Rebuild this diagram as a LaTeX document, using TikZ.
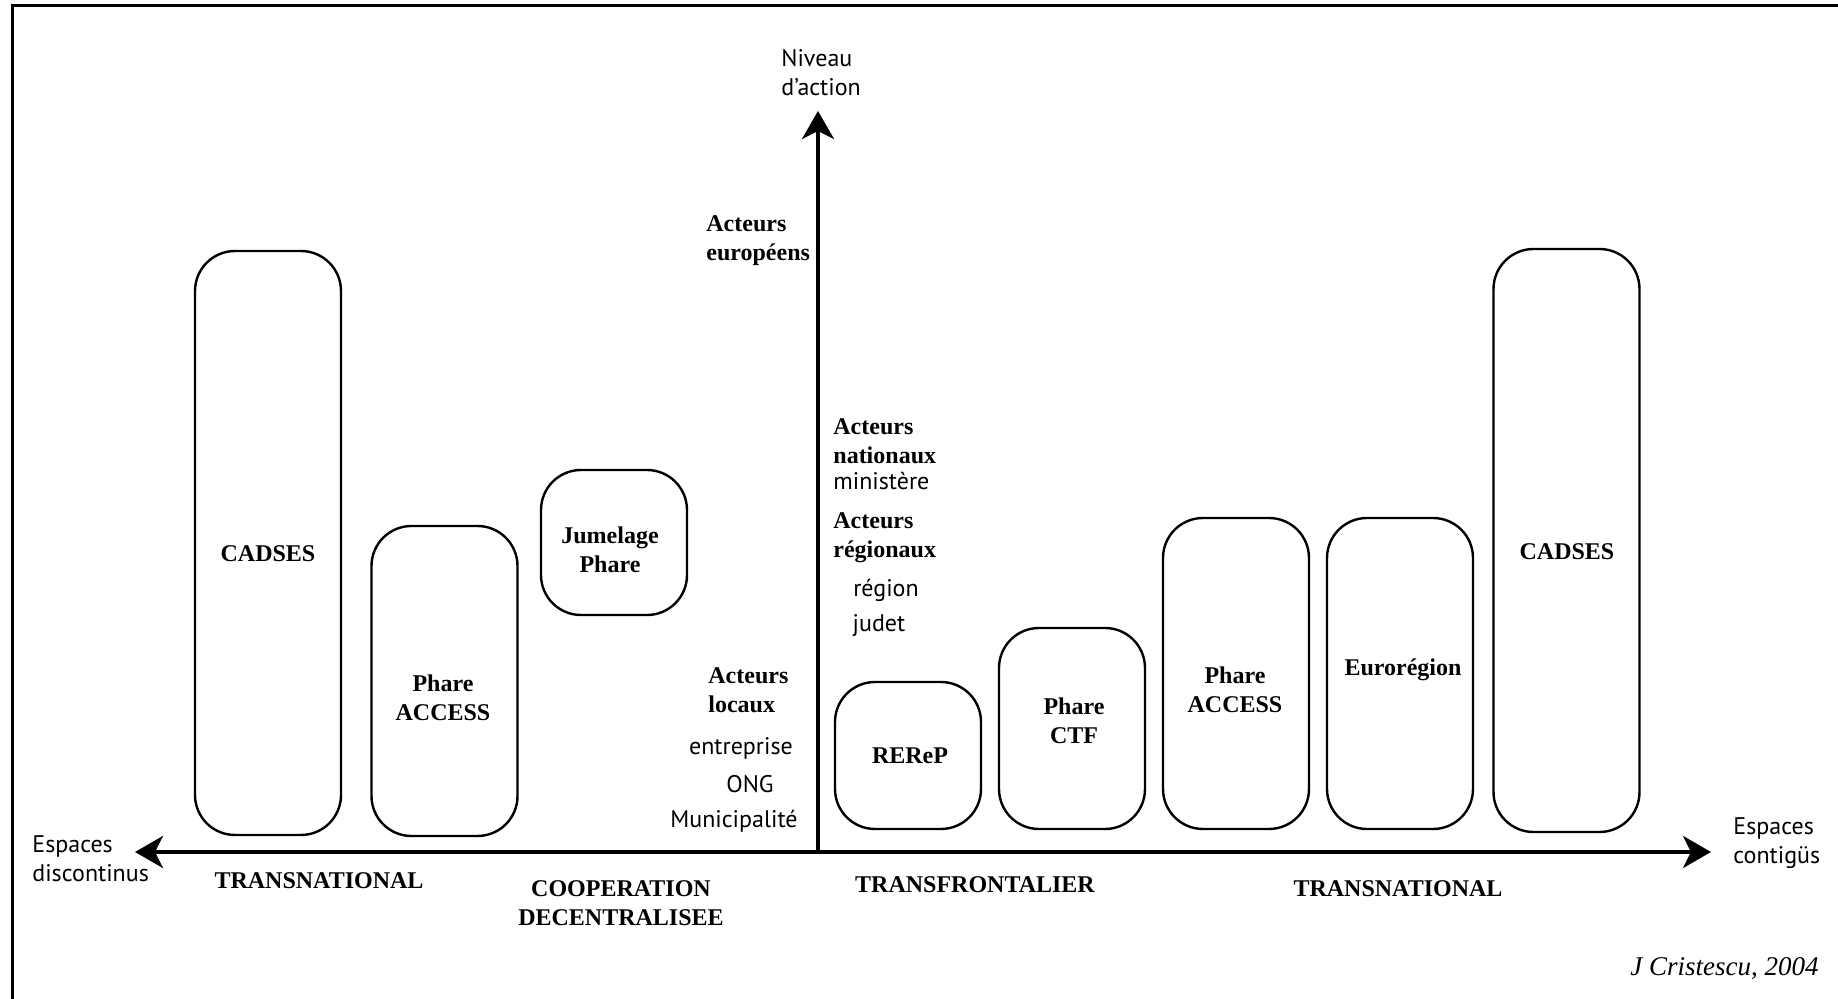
\documentclass[tikz,border=0pt]{standalone}
\usepackage{fontspec}
\setmainfont{Liberation Serif}
\setsansfont{PT Sans}
\usetikzlibrary{arrows.meta}
\tikzset{
  >={Stealth[length=14pt,width=16pt,inset=4pt]},
  prog/.style={draw, line width=1.2pt, rounded corners=20pt, minimum width=73pt, inner sep=0pt},
  bold/.style={font=\bfseries\fontsize{12}{14.5}\selectfont, align=center, inner sep=0pt},
  plain/.style={font=\sffamily\fontsize{12}{14.5}\selectfont, align=center, inner sep=0pt},
  axis/.style={line width=2pt}
}
\begin{document}
\begin{tikzpicture}[x=0.5pt, y=-0.5pt]
\useasboundingbox (0,0) rectangle (1838,999);
% frame
\draw[line width=1.5pt] (12,999) -- (12,6) -- (1838,6);
% axes
\coordinate (origin) at (818,852);
\coordinate (ytop) at (818,111);
\coordinate (xleft) at (135,852);
\coordinate (xright) at (1711,852);
\draw[axis, ->] (origin) -- (ytop);
\draw[axis, <->] (xleft) -- (xright);
\node[plain, align=left, anchor=west] (niveau) at (781,73) {Niveau\\d\symbol{39}action};
\node[plain, align=left, anchor=west] (discontinus) at (32,859) {Espaces\\discontinus};
\node[plain, align=left, anchor=west] (contigus) at (1733,843) {Espaces\\contig\"us};
% programmes
\foreach \nm/\cx/\cy/\ht in {cadsesL/268/543/584, accessL/444.5/681/310, jumelage/614/542.5/145,
  rerep/908/755.5/147, ctf/1072/728.5/201, accessR/1236/673.5/311, euroreg/1400/673.5/311,
  cadsesR/1566.5/540.5/583}
{
  \node[prog, minimum height=\ht*0.5pt] (\nm) at (\cx,\cy) {};
}
\node[bold] (cadsesLtxt) at (268,554) {CADSES};
\node[bold] (accessLtxt) at (443,698) {Phare\\ACCESS};
\node[bold] (jumelagetxt) at (610,550) {Jumelage\\Phare};
\node[bold] (rereptxt) at (910,756) {REReP};
\node[bold] (ctftxt) at (1074,721) {Phare\\CTF};
\node[bold] (accessRtxt) at (1235,690) {Phare\\ACCESS};
\node[bold] (euroregtxt) at (1403,670) {Eurorégion};
\node[bold] (cadsesRtxt) at (1567,552) {CADSES};
% acteurs
\node[bold, align=left, anchor=west] (europeens) at (706,240.5) {Acteurs\\européens};
\node[bold, align=left, anchor=west] (locaux) at (708,690) {Acteurs\\locaux};
\node[plain] (entreprise) at (741,748) {entreprise};
\node[plain] (ong) at (750,784) {ONG};
\node[plain] (municipalite) at (734,821) {Municipalité};
\node[bold, align=left, anchor=west] (nationaux) at (833,441) {Acteurs\\nationaux};
\node[plain, anchor=west] (ministere) at (833,481) {ministère};
\node[bold, align=left, anchor=west] (regionaux) at (833,538) {Acteurs\\régionaux};
\node[plain] (region) at (886,590) {région};
\node[plain] (judet) at (879,626) {judet};
% echelles
\node[bold] (transnatL) at (319,881) {TRANSNATIONAL};
\node[bold] (cooperation) at (621,903.5) {COOPERATION\\DECENTRALISEE};
\node[bold] (transfront) at (975,885) {TRANSFRONTALIER};
\node[bold] (transnatR) at (1398,889) {TRANSNATIONAL};
\node[font=\itshape\fontsize{13.5}{16}\selectfont, inner sep=0pt, anchor=east] (auteur) at (1819,969) {J Cristescu, 2004};
\end{tikzpicture}
\end{document}
